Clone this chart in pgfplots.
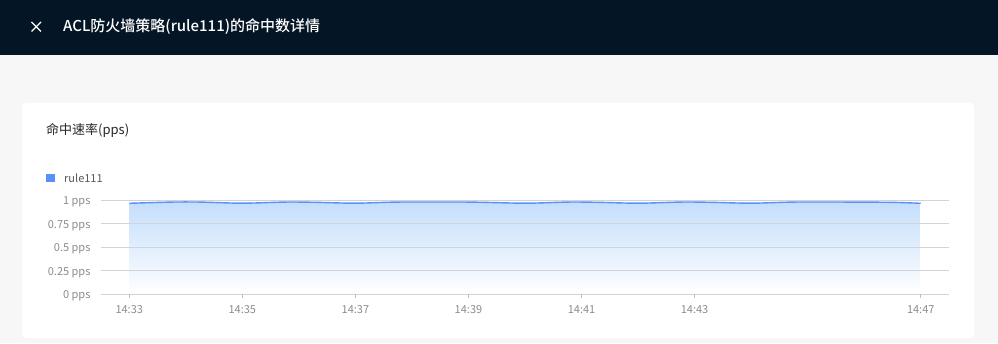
\documentclass[border=0pt]{standalone}
\usepackage{fontspec}
\usepackage{pgfplots}
\usepackage{pgfplotstable}
\pgfplotsset{compat=1.18}
\setmainfont{Noto Sans CJK SC}[BoldFont={Noto Sans CJK SC Medium}]
\definecolor{hdr}{RGB}{4,21,37}
\definecolor{bgc}{RGB}{247,247,247}
\definecolor{linec}{RGB}{91,143,249}
\definecolor{fillc}{RGB}{196,222,251}
\definecolor{gridc}{RGB}{208,212,218}
\definecolor{axisc}{RGB}{191,191,191}
\definecolor{tickc}{RGB}{140,140,140}
\definecolor{legc}{RGB}{89,89,89}
\definecolor{titc}{RGB}{38,38,38}
\pgfplotstableread{
t v
0 0.965
0.75 0.978
1.25 0.978
2 0.966
2.75 0.978
3.25 0.976
4 0.966
4.75 0.978
6 0.978
7 0.966
7.75 0.978
8.25 0.976
9 0.966
9.75 0.978
10.25 0.976
11 0.966
11.75 0.978
12.75 0.978
13.5 0.975
14 0.965
}\ratedata
\begin{document}
\begin{tikzpicture}
\useasboundingbox (0pt,0pt) rectangle (998pt,343pt);
\fill[bgc] (0pt,0pt) rectangle (998pt,343pt);
\fill[hdr] (0pt,288pt) rectangle (998pt,343pt);
\fill[white, rounded corners=4pt] (22pt,5pt) rectangle (974pt,240pt);
\draw[white, line width=1.1pt] (31.5pt,311.5pt) -- (41pt,321pt) (31.5pt,321pt) -- (41pt,311.5pt);
\node[anchor=west, inner sep=0, text=white, font=\fontsize{15}{18}\selectfont\bfseries] at (63pt,316pt) {ACL防火墙策略(rule111)的命中数详情};
\node[anchor=west, inner sep=0, text=titc, font=\fontsize{13}{16}\selectfont] at (46pt,213pt) {命中速率(pps)};
\fill[linec] (46pt,161pt) rectangle (55pt,169pt);
\node[anchor=west, inner sep=0, text=legc, font=\fontsize{11}{13}\selectfont] at (64pt,165pt) {rule111};
\begin{axis}[
  at={(101pt,49pt)}, anchor=south west,
  scale only axis, width=848pt, height=94pt,
  xmin=-0.5, xmax=14.5, ymin=0, ymax=1,
  axis on top,
  axis line style={draw=none},
  ymajorgrids, grid style={gridc, line width=0.6pt},
  xtick={0,2,4,6,8,10,14},
  xticklabels={14:33,14:35,14:37,14:39,14:41,14:43,14:47},
  ytick={0,0.25,0.5,0.75,1},
  yticklabels={0 pps,0.25 pps,0.5 pps,0.75 pps,1 pps},
  xtick pos=bottom, ytick pos=left,
  tick align=outside, major tick length=4pt,
  xtick style={draw=axisc, line width=0.6pt},
  ytick style={draw=none},
  ticklabel style={font=\fontsize{11}{13}\selectfont, text=tickc},
  yticklabel style={xshift=-3pt, yshift=-2pt},
  xticklabel style={yshift=-4pt},
  clip=false,
]
\addplot[draw=none, top color=fillc, bottom color=white, smooth] table[x=t,y=v] {\ratedata} \closedcycle;
\draw[axisc, line width=0.8pt] (axis cs:-0.5,0) -- (axis cs:14.5,0);
\addplot[linec, line width=1.4pt, smooth] table[x=t,y=v] {\ratedata};
\end{axis}
\end{tikzpicture}
\end{document}
